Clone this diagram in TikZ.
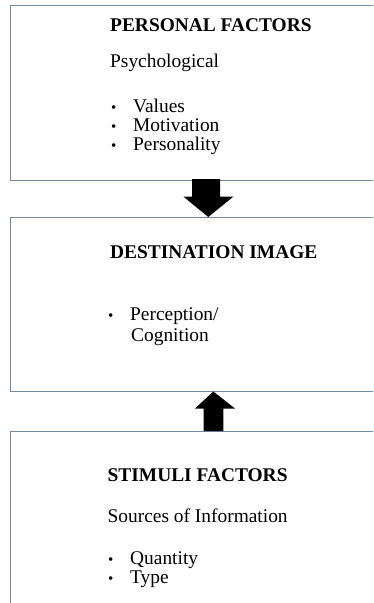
\documentclass[tikz,border=0pt]{standalone}
\usepackage{fontspec}
\setmainfont{Liberation Serif}
\definecolor{boxline}{RGB}{115,140,165}
\begin{document}
\begin{tikzpicture}[x=1pt,y=-1pt,
  panel/.style={draw=boxline,line width=1pt,fill=white},
  head/.style={anchor=base west,inner sep=0pt,font=\fontsize{19.4}{20}\selectfont\bfseries},
  txt/.style={anchor=base west,inner sep=0pt,font=\fontsize{19.4}{20}\selectfont},
  bul/.style={anchor=base west,inner sep=0pt,font=\fontsize{15}{20}\selectfont},
  blockarrow/.style={fill=black,draw=none}]
\useasboundingbox (0,0) rectangle (373,603);
\clip (0,0) rectangle (373,603);
% boxes
\draw[panel] (10,5) rectangle (390,180);
\draw[panel] (10,217) rectangle (390,391);
\draw[panel] (10,431) rectangle (390,620);
% arrows
\fill[blockarrow] (192,179) -- (220,179) -- (220,196.5) -- (233.5,196.5) -- (208.3,217) -- (183.3,196.5) -- (192,196.5) -- cycle;
\fill[blockarrow] (203.5,431) -- (223.3,431) -- (223.3,408.5) -- (235,408.5) -- (213.3,391.5) -- (195,408.5) -- (203.5,408.5) -- cycle;
% top box text
\node[head] (pf) at (110,31) {PERSONAL FACTORS};
\node[txt] (psy) at (110,67) {Psychological};
\node[bul] (b1) at (111,112) {\textbullet};
\node[txt] (v) at (133,112) {Values};
\node[bul] (b2) at (111,131) {\textbullet};
\node[txt] (m) at (133,131) {Motivation};
\node[bul] (b3) at (111,150) {\textbullet};
\node[txt] (p) at (133,150) {Personality};
% middle box text
\node[head] (di) at (110,258.5) {DESTINATION IMAGE};
\node[bul] (b4) at (108,320) {\textbullet};
\node[txt] (pc) at (130,320) {Perception/};
\node[txt] (cg) at (131,341) {Cognition};
% bottom box text
\node[head] (sf) at (107.5,481) {STIMULI FACTORS};
\node[txt] (si) at (107.5,522) {Sources of Information};
\node[bul] (b5) at (108,564) {\textbullet};
\node[txt] (q) at (130,564) {Quantity};
\node[bul] (b6) at (108,583) {\textbullet};
\node[txt] (t) at (130,583) {Type};
\end{tikzpicture}
\end{document}
